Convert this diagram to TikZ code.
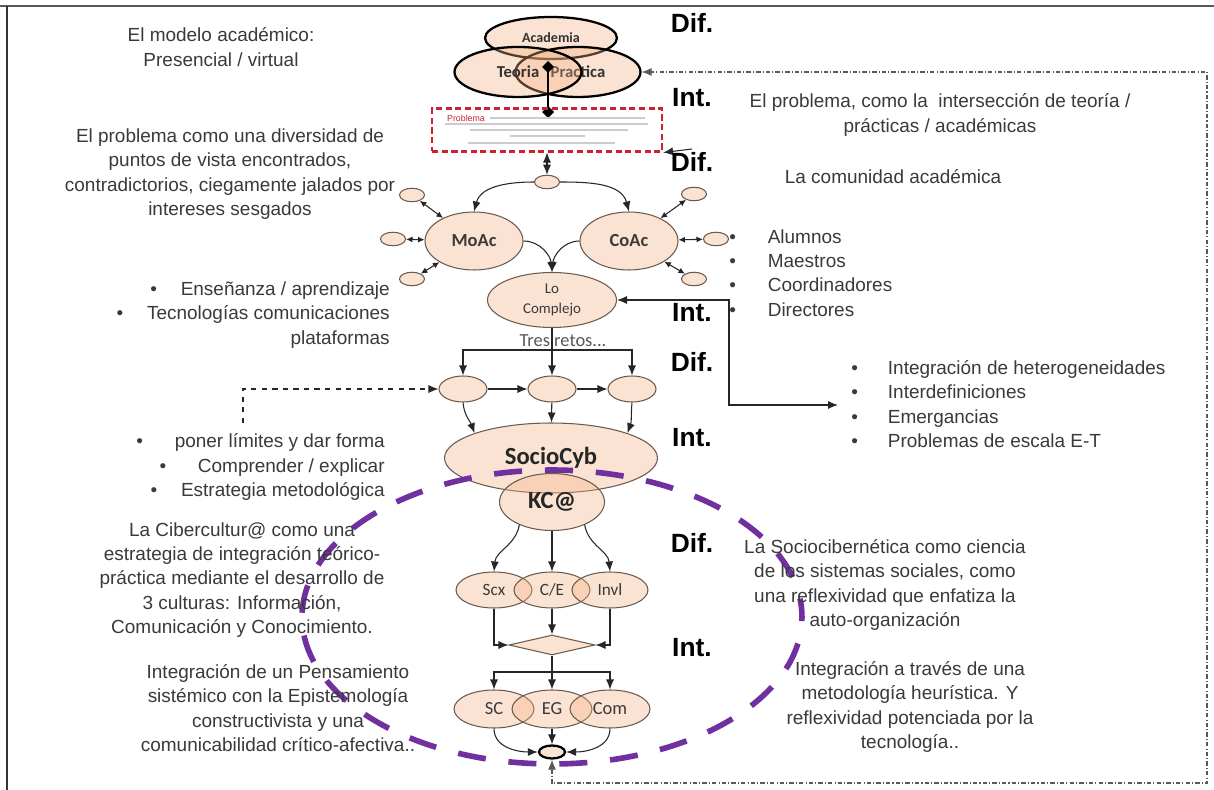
\documentclass[tikz,border=0pt]{standalone}
\usepackage{fontspec}
\setmainfont{Liberation Sans}
\newfontfamily\nodefont{Carlito}
\usetikzlibrary{arrows.meta, shapes.geometric}
\definecolor{peach}{HTML}{F4B183}
\definecolor{rim}{HTML}{6B5B4E}
\definecolor{ink}{HTML}{3A3A3A}
\definecolor{purp}{HTML}{7030A0}
\definecolor{redbox}{HTML}{D02030}
\newcommand{\bodytext}{\fontsize{10.8}{13.9}\selectfont}
\newcommand{\bl}[1][1.25em]{\textbullet\hspace{#1}}

\begin{document}
\begin{tikzpicture}[x=0.02cm, y=-0.02cm,
  every node/.style={inner sep=0pt},
  blob/.style={ellipse, draw=rim, line width=.6pt, fill=peach, fill opacity=.35, text opacity=1, text=ink, font=\nodefont\fontsize{10}{12}\selectfont},
  venn/.style={ellipse, draw=black, line width=1.3pt, fill=peach, fill opacity=.35, text opacity=1, text=black!80},
  satbox/.style={blob, minimum width=.5cm, minimum height=.27cm},
  retobox/.style={blob, minimum width=.96cm, minimum height=.52cm},
  trio/.style={blob, minimum width=1.52cm, minimum height=.72cm, font=\nodefont\fontsize{9.8}{12}\selectfont},
  duo/.style={blob, minimum width=1.6cm, minimum height=.76cm, font=\nodefont\fontsize{10.5}{12}\selectfont},
  lbl/.style={text=ink, font=\bodytext, align=center},
  lvl/.style={font=\fontsize{15}{18}\selectfont\bfseries},
  con/.style={draw=black!85, line width=.6pt},
  twin/.style={con, {Latex[length=1.3mm, width=1.2mm]}-{Latex[length=1.3mm, width=1.2mm]}},
  >={Latex[length=2mm, width=1.6mm]}]
  \fill[white] (0,0) rectangle (1214,790);
  \useasboundingbox (0,0) rectangle (1214,790);
  \draw[black!65, line width=1.5pt] (0,6) -- (1214,6);
  \draw[black!80, line width=.9pt] (7,6) -- (7,790);

  \node[venn, minimum width=2.64cm, minimum height=.84cm, font=\nodefont\bfseries\fontsize{8}{9}\selectfont] (aca) at (551,38) {Academia};
  \node[venn, minimum width=2.5cm, minimum height=1cm, font=\nodefont\bfseries\fontsize{9.5}{11}\selectfont] (pra) at (578,72) {Practica};
  \node[venn, minimum width=2.54cm, minimum height=1cm, font=\nodefont\bfseries\fontsize{9.5}{11}\selectfont] (teo) at (518,72) {Teoria\hspace{.32cm}};
  \coordinate (vt) at (548,61);
  \coordinate (vb) at (548,118);
  \draw[line width=1.6pt, {Diamond[length=2.4mm,width=2.4mm]}-{Diamond[length=2.4mm,width=2.4mm]}] (vt) -- (vb);

  \node[draw=redbox, line width=1.2pt, dash pattern=on 3.5pt off 2pt, minimum width=4.6cm, minimum height=.86cm] (box) at (547,130) {};
  \node[text=redbox, font=\fontsize{5}{6}\selectfont] (pbl) at (466,118) {Problema};
  \foreach \y/\a/\b in {118/490/645, 124/445/648, 130/470/628, 136/510/585, 143/468/615}
    \draw[gray!40, line width=.8pt] (\a,\y) -- (\b,\y);
  \coordinate (pin) at (692,149);

  \node[satbox] (s0) at (547,182) {};
  \node[blob, minimum width=1.96cm, minimum height=1.16cm, font=\nodefont\bfseries\fontsize{10.5}{12}\selectfont] (moac) at (474,241) {MoAc};
  \node[blob, minimum width=1.96cm, minimum height=1.16cm, font=\nodefont\bfseries\fontsize{10.5}{12}\selectfont] (coac) at (629,241) {CoAc};
  \node[satbox] (m1) at (412,195) {};
  \node[satbox] (m2) at (393,239) {};
  \node[satbox] (m3) at (412,279) {};
  \node[satbox] (c1) at (694,194) {};
  \node[satbox] (c2) at (716,239) {};
  \node[satbox] (c3) at (694,279) {};

  \node[blob, minimum width=2.58cm, minimum height=1.1cm, align=center, font=\nodefont\fontsize{8.5}{11}\selectfont] (locomp) at (552,300) {Lo\\Complejo};
  \node[text=ink!85, font=\nodefont\fontsize{10.5}{12}\selectfont] (retos) at (563,341) {Tres retos...};
  \coordinate (tr) at (552,350);
  \coordinate (lk1) at (729,300);
  \coordinate (lk2) at (729,405);
  \coordinate (lk3) at (838,405);
  \node[retobox] (n1) at (463,389) {};
  \node[retobox] (n2) at (552,389) {};
  \node[retobox] (n3) at (632,389) {};
  \coordinate (dl) at (243,423);
  \coordinate (dk) at (243,389);

  \node[blob, minimum width=4.26cm, minimum height=1.4cm, text=black!85, font=\nodefont\bfseries\fontsize{14}{16}\selectfont] (scy) at (551,458) {SocioCyb};
  \node[blob, minimum width=2.1cm, minimum height=1.14cm, text=black!85, font=\nodefont\bfseries\fontsize{14}{16}\selectfont] (kc) at (552,502) {KC@};
  \node[trio] (scx) at (494,590) {Scx};
  \node[trio] (ce) at (552,590) {C/E};
  \node[trio] (invl) at (610,590) {Invl};
  \node[diamond, draw=rim, line width=.6pt, fill=peach, fill opacity=.35, minimum width=1.72cm, minimum height=.4cm] (dia) at (552,645) {};
  \coordinate (dj) at (552,672);
  \node[duo] (sc) at (494,709) {SC};
  \node[duo] (eg) at (552,709) {EG};
  \node[duo] (com) at (610,709) {Com};
  \node[ellipse, draw=black, line width=1.3pt, fill=peach, fill opacity=.35, minimum width=.52cm, minimum height=.26cm] (bn) at (552,752) {};
  \coordinate (fb1) at (552,783);
  \coordinate (fb2) at (1207,783);
  \coordinate (fb3) at (1207,72);

  \draw[con, ->] (pin) -- (box.south east);
  \draw[con, <->] (box.south) -- (s0.north);
  \draw[con, ->] (s0.west) to[out=180, in=75] (moac.north);
  \draw[con, ->] (s0.east) to[out=0, in=105] (coac.north);
  \foreach \s in {m1,m2,m3} \draw[twin] (\s) -- (moac);
  \foreach \s in {c1,c2,c3} \draw[twin] (\s) -- (coac);
  \draw[con, ->] (moac.east) to[out=0, in=95] (locomp.north);
  \draw[con, ->] (coac.west) to[out=180, in=85] (locomp.north);
  \draw[con, <->] (locomp.east) -- (lk1) -- (lk2) -- (lk3);
  \draw[con] (locomp.south) -- (tr);
  \draw[con, ->] (tr) -| (n1);
  \draw[con, ->] (tr) -- (n2);
  \draw[con, ->] (tr) -| (n3);
  \draw[con, ->] (n1) -- (n2);
  \draw[con, ->] (n2) -- (n3);
  \draw[con, dashed, ->] (dl) -- (dk) -- (n1.west);
  \draw[con, ->] (n1.south) to[out=-85, in=110] (scy.162);
  \draw[con, ->] (n2) -- (scy);
  \draw[con, ->] (n3.south) to[out=-95, in=70] (scy.18);
  \draw[con, ->] (kc.215) to[out=-100, in=85] (scx.north);
  \draw[con, ->] (kc.south) -- (ce.north);
  \draw[con, ->] (kc.325) to[out=-80, in=95] (invl.north);
  \draw[con, ->] (scx.south) |- (dia.west);
  \draw[con, ->] (invl.south) |- (dia.east);
  \draw[con, ->] (ce) -- (dia);
  \draw[con] (dia.south) -- (dj);
  \draw[con, ->] (dj) -| (sc);
  \draw[con, ->] (dj) -- (eg);
  \draw[con, ->] (dj) -| (com);
  \draw[con, ->] (sc.south) to[out=-90, in=180] (bn.west);
  \draw[con, ->] (eg) -- (bn);
  \draw[con, ->] (com.south) to[out=-90, in=0] (bn.east);
  \draw[con, draw=black!65, dash pattern=on 2.5pt off 1.2pt on .6pt off 1.2pt, <->] (bn.south) -- (fb1) -- (fb2) -- (fb3) -- (pra.east);

  \draw[purp, line width=3.2pt, dash pattern=on 16pt off 13pt, dash phase=5.5pt] (552,617) ellipse [x radius=5cm, y radius=2.94cm];

  \foreach \y/\t [count=\i] in {23/Dif., 98/Int., 162/Dif., 313/Int., 362/Dif., 438/Int., 543/Dif., 648/Int.}
    \node[lvl] (lv\i) at (692,\y) {\t};

  \node[lbl] (mod) at (221,47) {El modelo académico:\\Presencial / virtual};
  \node[lbl] (prob) at (230,174) {El problema como una diversidad de\\puntos de vista encontrados,\\contradictorios, ciegamente jalados por\\intereses sesgados};
  \node[lbl, align=right, anchor=east] (ens) at (390,315) {\bl Enseñanza / aprendizaje\\\bl Tecnologías comunicaciones\\plataformas};
  \node[lbl, align=right, anchor=east] (lim) at (385,467) {\bl[1.4em] poner límites y dar forma\\\bl[1.4em] Comprender / explicar\\\bl Estrategia metodológica};
  \node[lbl] (ciber) at (242,580) {La Cibercultur@ como una\\estrategia de integración teórico-\\práctica mediante el desarrollo de\\3 culturas: Información,\\Comunicación y Conocimiento.};
  \node[lbl] (pens) at (278,708) {Integración de un Pensamiento\\sistémico con la Epistemología\\constructivista y una\\comunicabilidad crítico-afectiva..};

  \node[lbl] (inter) at (940,115) {El problema, como la\ \ intersección de teoría /\\prácticas / académicas};
  \node[lbl] (comu) at (893,177) {La comunidad académica};
  \node[lbl, align=left, anchor=west] (actores) at (729,273) {\bl[1.4em] Alumnos\\\bl[1.4em] Maestros\\\bl[1.4em] Coordinadores\\\bl[1.4em] Directores};
  \node[lbl, align=left, anchor=west] (integ) at (851,404) {\bl[1.3em] Integración de heterogeneidades\\\bl[1.3em] Interdefiniciones\\\bl[1.3em] Emergancias\\\bl[1.3em] Problemas de escala E-T};
  \node[lbl] (socio) at (885,585) {La Sociocibernética como ciencia\\de los sistemas sociales, como\\una reflexividad que enfatiza la\\auto-organización};
  \node[lbl] (heur) at (910,707) {Integración a través de una\\metodología heurística. Y\\reflexividad potenciada por la\\tecnología..};
\end{tikzpicture}
\end{document}
